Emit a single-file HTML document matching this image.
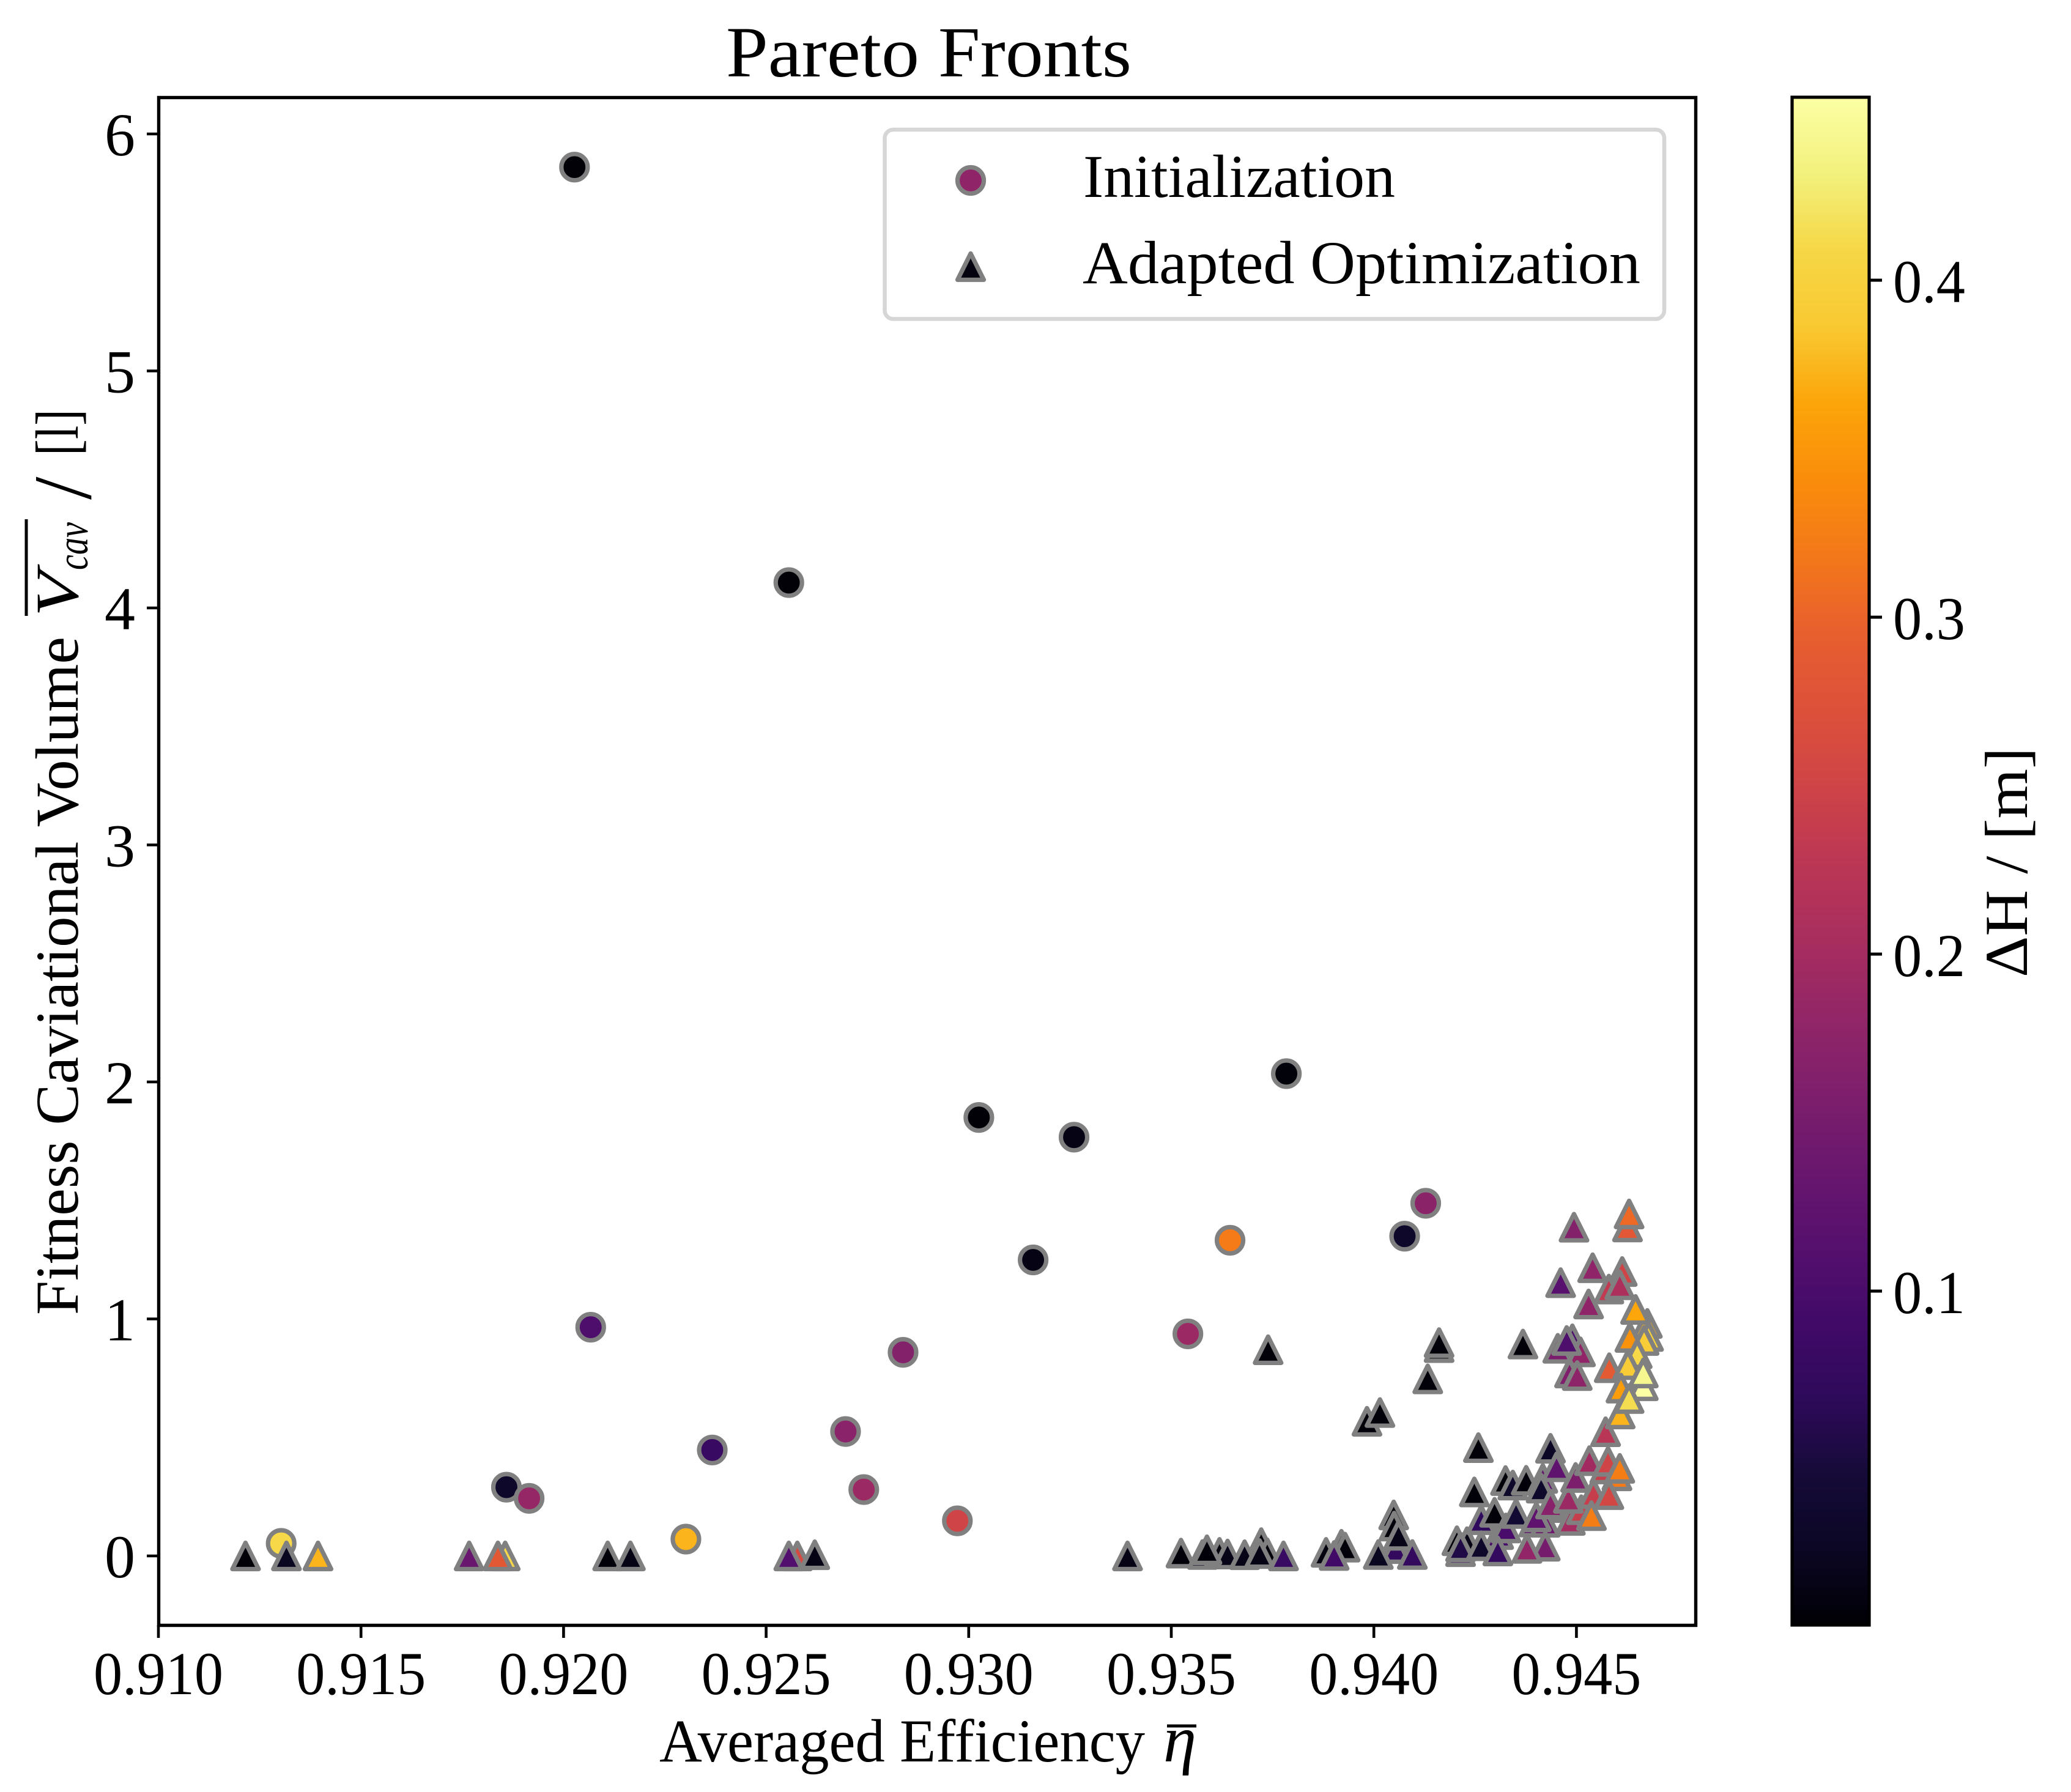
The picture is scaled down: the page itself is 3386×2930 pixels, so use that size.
<!DOCTYPE html>
<html lang="en">
<head>
<meta charset="utf-8">
<title>Pareto Fronts</title>
<style>
html,body{margin:0;padding:0;background:#fff;}
svg{display:block;}
text{font-family:"Liberation Serif",serif;fill:#000;}
</style>
</head>
<body>
<svg id="chart" xmlns="http://www.w3.org/2000/svg" width="3386" height="2930" viewBox="0 0 3386 2930">
  <defs>
    <linearGradient id="inferno-gradient" x1="0" y1="1" x2="0" y2="0"></linearGradient>
  </defs>
  <rect x="0" y="0" width="3386" height="2930" fill="#fff"/>
  <text x="1187" y="125" font-size="118" textLength="663" lengthAdjust="spacingAndGlyphs">Pareto Fronts</text>
  <g id="circles"></g>
  <g id="triangles"></g>
  <rect x="259.5" y="159.5" width="2513" height="2498" fill="none" stroke="#000" stroke-width="5.4"/>
  <g id="x-ticks"></g>
  <g id="y-ticks"></g>
  <text x="1078" y="2880" font-size="100" textLength="794" lengthAdjust="spacingAndGlyphs">Averaged Efficiency</text>
  <text x="1902" y="2880" font-size="108" font-style="italic" textLength="54" lengthAdjust="spacingAndGlyphs">η</text>
  <line x1="1908" y1="2822" x2="1956" y2="2822" stroke="#000" stroke-width="5"/>
  <text transform="translate(127,2150) rotate(-90)" font-size="100" textLength="1109" lengthAdjust="spacingAndGlyphs">Fitness Caviational Volume</text>
  <text transform="translate(127,1008) rotate(-90)" font-size="100" font-style="italic" textLength="74" lengthAdjust="spacingAndGlyphs">V</text>
  <text transform="translate(143,932) rotate(-90)" font-size="72" font-style="italic" textLength="78" lengthAdjust="spacingAndGlyphs">cav</text>
  <line x1="43" y1="1007" x2="43" y2="849" stroke="#000" stroke-width="5"/>
  <text transform="translate(148,817) rotate(-90)" font-size="135">/</text>
  <text transform="translate(127,745) rotate(-90)" font-size="100" textLength="76" lengthAdjust="spacingAndGlyphs">[l]</text>
  <g>
    <rect x="1446.5" y="212" width="1274.5" height="309.5" rx="14" ry="14" fill="#fff" stroke="#d6d6d6" stroke-width="6.5"/>
    <circle id="legend-circle" cx="1587" cy="295" r="21.5" stroke="#808080" stroke-width="7.2"/>
    <path id="legend-triangle" d="M1587 414.5 L1565.5 457.5 L1608.5 457.5 Z" stroke="#808080" stroke-width="7.2" stroke-linejoin="round"/>
    <text x="1771" y="322" font-size="100" textLength="510" lengthAdjust="spacingAndGlyphs">Initialization</text>
    <text x="1770" y="463" font-size="100" textLength="912" lengthAdjust="spacingAndGlyphs">Adapted Optimization</text>
  </g>
  <g>
    <rect x="2930" y="159" width="126" height="2498" fill="url(#inferno-gradient)" stroke="#000" stroke-width="5.2"/>
    <g id="cb-ticks"></g>
    <text transform="translate(3314,1598) rotate(-90)" font-size="100" textLength="376" lengthAdjust="spacingAndGlyphs">ΔH / [m]</text>
  </g>
</svg>
<script>
/* ---------- chart data ---------- */
const xTickValues = [0.910, 0.915, 0.920, 0.925, 0.930, 0.935, 0.940, 0.945];
const xTickLabels = ["0.910", "0.915", "0.920", "0.925", "0.930", "0.935", "0.940", "0.945"];
const yTickValues = [0, 1, 2, 3, 4, 5, 6];
const yTickLabels = ["0", "1", "2", "3", "4", "5", "6"];
const cbTickValues = [0.1, 0.2, 0.3, 0.4];
const cbTickLabels = ["0.1", "0.2", "0.3", "0.4"];

/* Initialization series */
const initEfficiency = [0.92027, 0.92556, 0.93784, 0.93025, 0.9326, 0.93159, 0.94076, 0.94128, 0.93645, 0.93541,
  0.92838, 0.92067, 0.92696, 0.92367, 0.92741, 0.92972, 0.91859, 0.91915, 0.92302, 0.91303];
const initVolume = [5.86, 4.107, 2.035, 1.85, 1.767, 1.249, 1.349, 1.488, 1.332, 0.937,
  0.859, 0.965, 0.525, 0.447, 0.28, 0.148, 0.29, 0.243, 0.071, 0.053];
const initHead = [0.004, 0.004, 0.006, 0.004, 0.012, 0.012, 0.03, 0.173, 0.322, 0.19,
  0.165, 0.105, 0.172, 0.08, 0.19, 0.25, 0.03, 0.185, 0.373, 0.41];

/* Adapted Optimization series, back to front */
const optEfficiency = [
  0.91215, 0.91316, 0.91394, 0.91767, 0.91856, 0.91838, 0.92109, 0.92165, 0.92577, 0.92556, 0.9262, 0.93392,
  0.93524, 0.93577, 0.93619, 0.93639, 0.93588, 0.93722, 0.93737, 0.93681, 0.93718, 0.93777,
  0.9392, 0.93929, 0.93882, 0.93902,
  0.94049, 0.9405, 0.94054, 0.94061, 0.94011, 0.94095,
  0.93739, 0.93983, 0.94015, 0.94133, 0.94161, 0.94161, 0.94368, 0.94258,
  0.94205, 0.9423, 0.94214, 0.94214, 0.94265, 0.94248, 0.94308, 0.94298, 0.94265, 0.94326, 0.94306,
  0.94325, 0.94343, 0.94376, 0.94417, 0.94436, 0.94395, 0.94423, 0.94413, 0.94351, 0.94401,
  0.94475, 0.94485, 0.94512, 0.94542, 0.9457, 0.94423, 0.94378, 0.94436, 0.9448, 0.94451, 0.94498, 0.94532,
  0.94578, 0.946, 0.9458, 0.94572, 0.94607, 0.94537,
  0.94494, 0.94626, 0.9463, 0.9454, 0.94613, 0.9458, 0.94607, 0.94461, 0.9453,
  0.9449, 0.94454, 0.9451, 0.94476, 0.94483, 0.94502, 0.94581,
  0.94675, 0.94646, 0.94678, 0.94632, 0.94667, 0.9465, 0.94627, 0.94665, 0.94665, 0.9461, 0.94608, 0.9463
];
const optVolume = [
  0, 0, 0, 0, 0, 0, 0, 0, 0, 0, 0.005, 0,
  0.012, 0.006, 0.015, 0.008, 0.026, 0.056, 0.013, 0.005, 0.01, 0,
  0.049, 0.037, 0.015, 0.002,
  0.173, 0.126, 0.031, 0.087, 0.006, 0.006,
  0.87, 0.568, 0.605, 0.747, 0.879, 0.9, 0.894, 0.457,
  0.064, 0.06, 0.018, 0.038, 0.153, 0.27, 0.09, 0.184, 0.043, 0.118, 0.021,
  0.318, 0.299, 0.319, 0.327, 0.454, 0.143, 0.142, 0.286, 0.179, 0.165,
  0.204, 0.15, 0.195, 0.263, 0.367, 0.041, 0.032, 0.219, 0.243, 0.376, 0.331, 0.402,
  0.399, 0.338, 0.2585, 0.524, 0.3695, 0.17,
  1.387, 1.388, 1.443, 1.216, 1.2, 1.126, 1.144, 1.153, 1.063,
  0.916, 0.876, 0.861, 0.909, 0.772, 0.761, 0.794,
  0.981, 1.04, 0.926, 0.922, 0.909, 0.853, 0.807, 0.718, 0.772, 0.708, 0.599, 0.664
];
const optHead = [
  0.004, 0.02, 0.373, 0.135, 0.41, 0.285, 0.005, 0.012, 0.26, 0.11, 0.012, 0.012,
  0.005, 0.02, 0.005, 0.015, 0.005, 0.005, 0.005, 0.015, 0.012, 0.08,
  0.005, 0.005, 0.008, 0.09,
  0.005, 0.005, 0.075, 0.015, 0.02, 0.075,
  0.005, 0.005, 0.005, 0.005, 0.005, 0.005, 0.005, 0.005,
  0.005, 0.012, 0.09, 0.055, 0.07, 0.005, 0.1, 0.005, 0.03, 0.1, 0.075,
  0.005, 0.03, 0.005, 0.13, 0.025, 0.125, 0.14, 0.03, 0.04, 0.125,
  0.18, 0.2, 0.24, 0.24, 0.24, 0.15, 0.18, 0.17, 0.19, 0.124, 0.156, 0.197,
  0.25, 0.32, 0.255, 0.224, 0.324, 0.324,
  0.165, 0.283, 0.305, 0.178, 0.251, 0.232, 0.21, 0.115, 0.178,
  0.1, 0.155, 0.18, 0.105, 0.16, 0.175, 0.287,
  0.37, 0.364, 0.4, 0.346, 0.391, 0.41, 0.391, 0.455, 0.442, 0.355, 0.373, 0.414
];

/* ---------- scales ---------- */
const xScale = v => 259 + (v - 0.91) * 66240;
const yScale = v => 2544 - v * 387.5;
const H_MIN = 0.0009, H_MAX = 0.4543;
const cbScale = v => 2657 - (v - H_MIN) / (H_MAX - H_MIN) * 2498;

/* inferno colormap */
const inferno = ["#000004","#0b0724","#160b39","#2f0a5b","#420a68","#57106e","#6a176e","#7f1f6c","#932667","#a92e5e","#bc3754","#cf4446","#dd513a","#e85f2e","#f37819","#fa8d0b","#fca50a","#f9c932","#f6d746","#f2f17d","#fcffa4"];
function hexToRgb(h){return [1,3,5].map(i=>parseInt(h.substr(i,2),16));}
function headColor(h){
  let t=(h-H_MIN)/(H_MAX-H_MIN);
  t=Math.max(0,Math.min(1,t))*(inferno.length-1);
  const i=Math.min(Math.floor(t),inferno.length-2), f=t-i;
  const a=hexToRgb(inferno[i]), b=hexToRgb(inferno[i+1]);
  return "rgb("+a.map((c,k)=>Math.round(c+(b[k]-c)*f)).join(",")+")";
}

const NS="http://www.w3.org/2000/svg";
const R=21.5;

/* colorbar gradient */
const gradient=document.getElementById("inferno-gradient");
inferno.forEach((c,i)=>{
  const s=document.createElementNS(NS,"stop");
  s.setAttribute("offset",i/(inferno.length-1));
  s.setAttribute("stop-color",c);
  gradient.appendChild(s);
});

/* circles */
const circleGroup=document.getElementById("circles");
initEfficiency.forEach((x,i)=>{
  const el=document.createElementNS(NS,"circle");
  
  
  el.setAttribute("cx",xScale(x));
  el.setAttribute("cy",yScale(initVolume[i]));
  el.setAttribute("r",R);
  el.setAttribute("fill",headColor(initHead[i]));
  el.setAttribute("stroke","#808080");
  el.setAttribute("stroke-width","7.2");
  circleGroup.appendChild(el);
});

/* triangles */
const triangleGroup=document.getElementById("triangles");
optEfficiency.forEach((x,i)=>{
  const cx=xScale(x), cy=yScale(optVolume[i]);
  const el=document.createElementNS(NS,"path");
  
  
  el.setAttribute("d","M"+cx+" "+(cy-R)+" L"+(cx-R)+" "+(cy+R)+" L"+(cx+R)+" "+(cy+R)+" Z");
  el.setAttribute("fill",headColor(optHead[i]));
  el.setAttribute("stroke","#808080");
  el.setAttribute("stroke-width","7.2");
  el.setAttribute("stroke-linejoin","round");
  triangleGroup.appendChild(el);
});

/* legend colours */
document.getElementById("legend-circle").setAttribute("fill",headColor(0.178));
document.getElementById("legend-triangle").setAttribute("fill",headColor(0.008));

/* x axis */
const xGroup=document.getElementById("x-ticks");
xTickValues.forEach((v,i)=>{
  const t=document.createElementNS(NS,"line");
  
  
  t.setAttribute("x1",xScale(v)); t.setAttribute("x2",xScale(v));
  t.setAttribute("y1",2657); t.setAttribute("y2",2678);
  t.setAttribute("stroke","#000"); t.setAttribute("stroke-width","4.6");
  xGroup.appendChild(t);
  const l=document.createElementNS(NS,"text");
  
  
  l.setAttribute("x",xScale(v)); l.setAttribute("y",2770);
  l.setAttribute("font-size","100");
  l.setAttribute("text-anchor","middle");
  l.setAttribute("textLength","212");
  l.setAttribute("lengthAdjust","spacingAndGlyphs");
  l.textContent=xTickLabels[i];
  xGroup.appendChild(l);
});

/* y axis */
const yGroup=document.getElementById("y-ticks");
yTickValues.forEach((v,i)=>{
  const t=document.createElementNS(NS,"line");
  
  
  t.setAttribute("x1",240); t.setAttribute("x2",259);
  t.setAttribute("y1",yScale(v)); t.setAttribute("y2",yScale(v));
  t.setAttribute("stroke","#000"); t.setAttribute("stroke-width","4.6");
  yGroup.appendChild(t);
  const l=document.createElementNS(NS,"text");
  
  
  l.setAttribute("x",221); l.setAttribute("y",yScale(v)+35);
  l.setAttribute("font-size","100");
  l.setAttribute("text-anchor","end");
  l.textContent=yTickLabels[i];
  yGroup.appendChild(l);
});

/* colorbar axis */
const cbGroup=document.getElementById("cb-ticks");
cbTickValues.forEach((v,i)=>{
  const t=document.createElementNS(NS,"line");
  
  
  t.setAttribute("x1",3056); t.setAttribute("x2",3077);
  t.setAttribute("y1",cbScale(v)); t.setAttribute("y2",cbScale(v));
  t.setAttribute("stroke","#000"); t.setAttribute("stroke-width","5");
  cbGroup.appendChild(t);
  const l=document.createElementNS(NS,"text");
  
  
  l.setAttribute("x",3095); l.setAttribute("y",cbScale(v)+36);
  l.setAttribute("font-size","100");
  l.setAttribute("textLength","118");
  l.setAttribute("lengthAdjust","spacingAndGlyphs");
  l.textContent=cbTickLabels[i];
  cbGroup.appendChild(l);
});
</script>
</body>
</html>
